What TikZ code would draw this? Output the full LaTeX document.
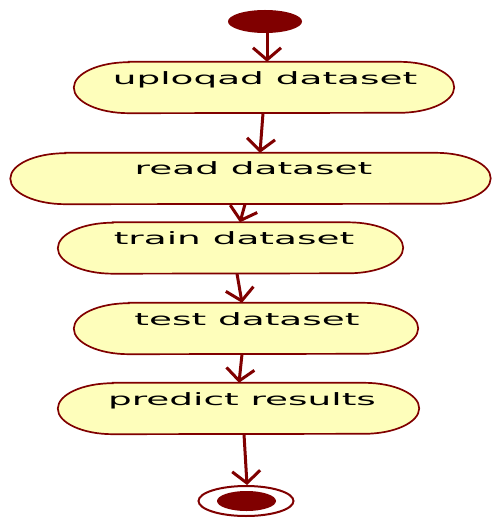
\documentclass[tikz,border=0pt]{standalone}
\usepackage{fontspec}
\setmainfont{DejaVu Sans}
\usetikzlibrary{shapes.geometric,arrows.meta}
\definecolor{umlred}{HTML}{800000}
\definecolor{umlfill}{HTML}{FEFEBB}
\tikzset{
  actbox/.style={rectangle, inner sep=0pt, minimum height=51pt},
  actline/.style={draw=umlred, fill=umlfill, line width=1.7pt},
  acttext/.style={anchor=base, inner sep=0pt, font=\fontsize{17}{17}\selectfont, xscale=2.2},
  flow/.style={draw=umlred, line width=3pt, -{Straight Barb[length=12pt,width=28pt,line width=3pt]}},
}
\newcommand\actshape[1]{%
  \path[actline] ([xshift=55pt]#1.north west) -- ([xshift=-55pt]#1.north east)
    arc[start angle=90,end angle=-90,x radius=55pt,y radius=25.5pt]
    -- ([xshift=55pt]#1.south west)
    arc[start angle=-90,end angle=-270,x radius=55pt,y radius=25.5pt] -- cycle;}
\begin{document}
\begin{tikzpicture}[x=1pt,y=-1pt]
\useasboundingbox (0,0) rectangle (491,518);
\node[ellipse, fill=umlred, minimum width=74pt, minimum height=23pt, inner sep=0pt] (start) at (265,21.5) {};
\node[actbox, minimum width=380pt] (b1) at (264,87.5) {};
\node[actbox, minimum width=480pt] (b2) at (250.5,178.5) {};
\node[actbox, minimum width=345pt] (b3) at (230.5,248) {};
\node[actbox, minimum width=344pt] (b4) at (246,328.5) {};
\node[actbox, minimum width=361pt] (b5) at (238.5,408.5) {};
\actshape{b1}\actshape{b2}\actshape{b3}\actshape{b4}\actshape{b5}
\node[ellipse, draw=umlred, line width=2pt, minimum width=95pt, minimum height=30pt, inner sep=0pt] (endo) at (246,501) {};
\node[ellipse, fill=umlred, minimum width=59pt, minimum height=20pt, inner sep=0pt] (endi) at (246.5,501) {};

\node[acttext] (t1) at (265,85) {uploqad dataset};
\node[acttext] (t2) at (253.5,175) {read dataset};
\node[acttext] (t3) at (234,244) {train dataset};
\node[acttext] (t4) at (247,325) {test dataset};
\node[acttext] (t5) at (242,405) {predict results};

\draw[flow] ([xshift=2pt]start.south) -- ([xshift=3pt]b1.north);
\draw[flow] ([xshift=-1pt]b1.south) -- ([xshift=9.5pt]b2.north);
\draw[flow] ([xshift=-5.5pt]b2.south) -- ([xshift=9.5pt]b3.north);
\draw[flow] ([xshift=6.5pt]b3.south) -- ([xshift=-4pt]b4.north);
\draw[flow] ([xshift=-4pt]b4.south) -- ([xshift=0.5pt]b5.north);
\draw[flow] ([xshift=5.5pt]b5.south) -- ([xshift=1pt]endo.north);
\end{tikzpicture}
\end{document}
